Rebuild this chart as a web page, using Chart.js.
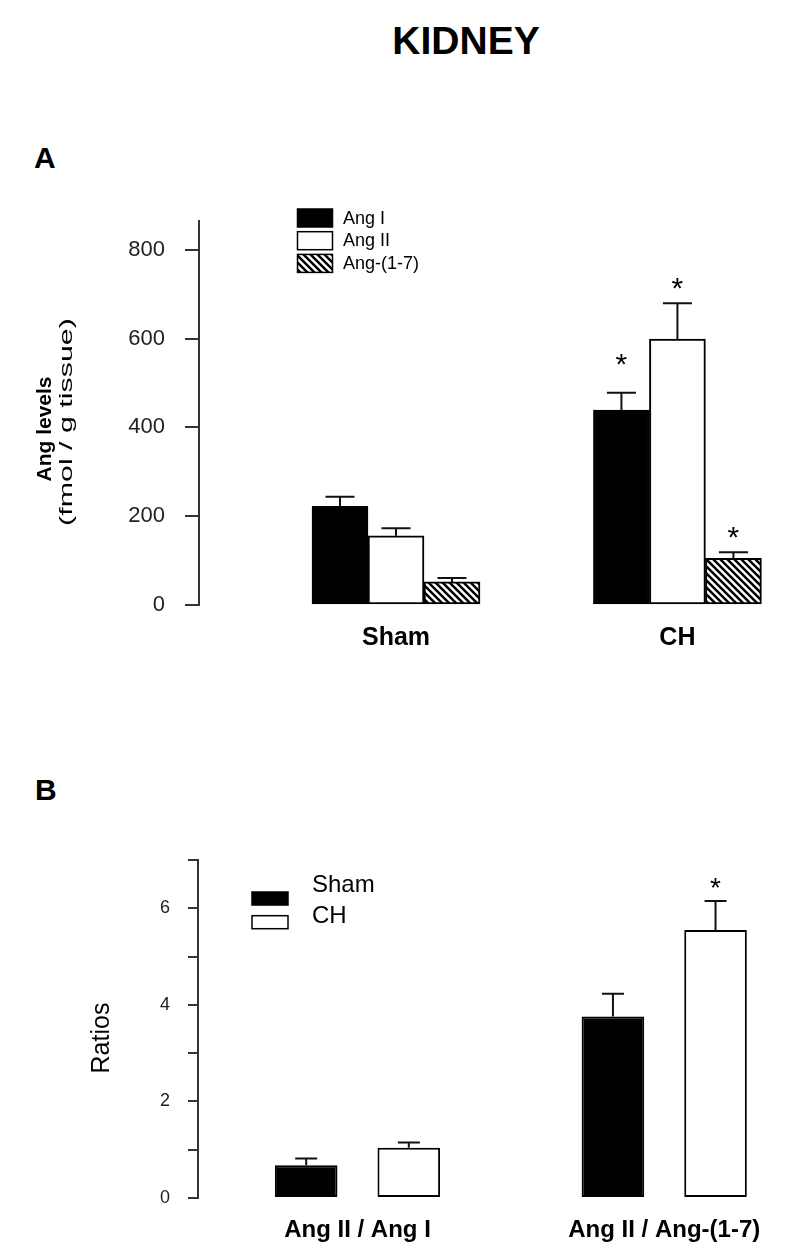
<!DOCTYPE html>
<html>
<head>
<meta charset="utf-8">
<script src="https://cdn.jsdelivr.net/npm/chart.js@4"></script>
<style>
  body { margin: 0; background: #fff; }
  #page { position: relative; width: 800px; height: 1259px; overflow: hidden; font-family: 'Liberation Sans', Arial, sans-serif; }
  .lbl { position: absolute; font-weight: bold; line-height: 1; color: #000; white-space: nowrap; }
  canvas { position: absolute; left: 0; }
</style>
</head>
<body>
<div id="page">
  <div class="lbl" style="left:466px; top:21px; font-size:39px; transform:translateX(-50%);">KIDNEY</div>
  <div class="lbl" style="left:34px; top:143px; font-size:30px;">A</div>
  <div class="lbl" style="left:35px; top:775px; font-size:30px;">B</div>
  <canvas id="chartA" width="800" height="690" style="top:0px"></canvas>
  <canvas id="chartB" width="800" height="569" style="top:690px"></canvas>
</div>
<script>
// --- Panel A: Ang levels (fmol / g tissue) ---
const groupsA = ["Sham", "CH"];
const angI = [222, 439];
const angIErr = [22, 39];
const angII = [156, 599];
const angIIErr = [17, 81];
const ang17 = [52, 105];
const ang17Err = [9, 14];
const starsAngI = [false, true];
const starsAngII = [false, true];
const starsAng17 = [false, true];
const ticksA = [0, 200, 400, 600, 800];

// --- Panel B: ratios ---
const groupsB = ["Ang II / Ang I", "Ang II / Ang-(1-7)"];
const ratioSham = [0.68, 3.76];
const ratioShamErr = [0.14, 0.47];
const ratioCH = [1.04, 5.55];
const ratioCHErr = [0.11, 0.60];
const starsSham = [false, false];
const starsCH = [false, true];
const ticksB = [0, 2, 4, 6];

Chart.defaults.font.family = "'Liberation Sans', Arial, sans-serif";
Chart.defaults.color = "#000";

// hatch fill for Ang-(1-7)
function makeHatch() {
    let c = document.createElement("canvas");
    c.width = 7; c.height = 7;
    let g = c.getContext("2d");
    g.fillStyle = "#fff";
    g.fillRect(0, 0, 7, 7);
    g.strokeStyle = "#000";
    g.lineWidth = 2.5;
    g.beginPath();
    g.moveTo(-1, -1); g.lineTo(8, 8);
    g.moveTo(-1, 6); g.lineTo(1, 8);
    g.moveTo(6, -1); g.lineTo(8, 1);
    g.stroke();
    return g.createPattern(c, "repeat");
}
const hatch = makeHatch();

// error bars (upper only) + asterisks
const errorBars = {
    id: "errorBars",
    afterDatasetsDraw(chart, args, opts) {
        const ctx = chart.ctx;
        const yScale = chart.scales.y;
        chart.data.datasets.forEach((ds, i) => {
            const meta = chart.getDatasetMeta(i);
            meta.data.forEach((bar, j) => {
                const top = yScale.getPixelForValue(ds.data[j] + ds.errors[j]);
                ctx.save();
                ctx.strokeStyle = "#111";
                ctx.lineWidth = 2;
                ctx.beginPath();
                ctx.moveTo(bar.x, bar.y);
                ctx.lineTo(bar.x, top);
                ctx.moveTo(bar.x - opts.cap / 2, top);
                ctx.lineTo(bar.x + opts.cap / 2, top);
                ctx.stroke();
                if (ds.stars[j]) {
                    const gap = (ds.starGap || opts.starGap);
                    ctx.fillStyle = "#000";
                    ctx.font = opts.starSize + "px 'Liberation Sans', Arial";
                    ctx.textAlign = "center";
                    ctx.textBaseline = "alphabetic";
                    ctx.fillText("*", bar.x, top - gap + 0.57 * opts.starSize);
                }
                ctx.restore();
            });
        });
    }
};

// rotated side title lines
const sideTitle = {
    id: "sideTitle",
    afterDraw(chart, args, opts) {
        const ctx = chart.ctx;
        const cy = (chart.chartArea.top + chart.chartArea.bottom) / 2;
        opts.lines.forEach(l => {
            ctx.save();
            ctx.translate(l.x, cy + l.dy);
            ctx.rotate(-Math.PI / 2);
            ctx.scale(l.stretch, 1);
            ctx.font = l.font;
            ctx.fillStyle = "#000";
            ctx.textAlign = "center";
            ctx.textBaseline = "middle";
            ctx.fillText(l.text, 0, 0);
            ctx.restore();
        });
    }
};

// small boxed legend inside the plot
const boxLegend = {
    id: "boxLegend",
    afterDraw(chart, args, o) {
        const ctx = chart.ctx;
        chart.data.datasets.forEach((ds, i) => {
            const y = o.top + i * o.row;
            ctx.save();
            ctx.fillStyle = ds.backgroundColor;
            ctx.fillRect(o.left, y, o.w, o.h);
            ctx.strokeStyle = "#000";
            ctx.lineWidth = 1.5;
            ctx.strokeRect(o.left, y, o.w, o.h);
            ctx.fillStyle = "#000";
            ctx.font = o.font;
            ctx.textBaseline = "middle";
            ctx.fillText(ds.label, o.left + o.w + o.gap, o.textTop + i * o.textRow);
            ctx.restore();
        });
    }
};

function yAxis(max, step, labels, size, tickLen, pad, width) {
    return {
        min: 0,
        max: max,
        afterFit: s => { s.width = width; },
        ticks: {
            stepSize: step,
            includeBounds: false,
            padding: pad,
            color: "#222",
            font: { size: size },
            callback: v => labels.includes(v) ? String(v) : ""
        },
        grid: { drawOnChartArea: false, drawTicks: true, tickLength: tickLen, color: "#333", lineWidth: 2 },
        border: { color: "#333", width: 2 }
    };
}

function xAxis(min, max, names, size) {
    return {
        type: "linear",
        min: min,
        max: max,
        offset: false,
        afterFit: s => { s.height = 60; },
        ticks: {
            stepSize: 1,
            includeBounds: false,
            padding: 18,
            maxRotation: 0,
            font: { size: size, weight: "bold" },
            callback: v => names[v - 1] || ""
        },
        grid: { display: false, drawTicks: false },
        border: { display: false }
    };
}

document.addEventListener("DOMContentLoaded", function () {
    new Chart(document.getElementById("chartA"), {
        type: "bar",
        data: {
            labels: [1, 2],
            datasets: [
                { label: "Ang I", data: angI, errors: angIErr, stars: starsAngI, starGap: 36, backgroundColor: "#000" },
                { label: "Ang II", data: angII, errors: angIIErr, stars: starsAngII, backgroundColor: "#fff" },
                { label: "Ang-(1-7)", data: ang17, errors: ang17Err, stars: starsAng17, backgroundColor: hatch }
            ].map(d => Object.assign(d, { borderColor: "#000", borderWidth: 2, borderSkipped: false, barThickness: 56 }))
        },
        options: {
            responsive: false,
            animation: false,
            events: [],
            layout: { padding: { top: 221, bottom: 25, left: 0, right: 10 } },
            scales: {
                x: xAxis(0.3, 2.4, groupsA, 25),
                y: yAxis(865, 200, ticksA, 22, 14, 20, 199)
            },
            plugins: {
                legend: { display: false },
                tooltip: { enabled: false },
                errorBars: { cap: 29, starSize: 30, starGap: 22 },
                sideTitle: { lines: [
                    { text: "Ang levels", font: "bold 20px 'Liberation Sans', Arial", x: 45, dy: 16, stretch: 1.05 },
                    { text: "(fmol / g tissue)", font: "19px 'Liberation Sans', Arial", x: 67, dy: 9, stretch: 1.6 }
                ] },
                boxLegend: { left: 297.5, top: 209, w: 35, h: 18, row: 22.7, gap: 10.5, textTop: 219, textRow: 22.5, font: "18px 'Liberation Sans', Arial" }
            }
        },
        plugins: [errorBars, sideTitle, boxLegend]
    });

    new Chart(document.getElementById("chartB"), {
        type: "bar",
        data: {
            labels: [1, 2],
            datasets: [
                { label: "Sham", data: ratioSham, errors: ratioShamErr, stars: starsSham, backgroundColor: "#000" },
                { label: "CH", data: ratioCH, errors: ratioCHErr, stars: starsCH, backgroundColor: "#fff" }
            ].map(d => Object.assign(d, { borderColor: "#000", borderWidth: 2, borderSkipped: false, categoryPercentage: 0.669, barPercentage: 0.61 }))
        },
        options: {
            responsive: false,
            animation: false,
            events: [],
            layout: { padding: { top: 170, bottom: 1, left: 0, right: 10 } },
            scales: {
                x: xAxis(0.48, 2.41, groupsB, 24),
                y: yAxis(7, 1, ticksB, 18, 10, 18, 198)
            },
            plugins: {
                legend: { display: false },
                tooltip: { enabled: false },
                errorBars: { cap: 22, starSize: 28, starGap: 20 },
                sideTitle: { lines: [
                    { text: "Ratios", font: "25px 'Liberation Sans', Arial", x: 102, dy: 9, stretch: 1 }
                ] },
                boxLegend: { left: 252, top: 202, w: 36, h: 13, row: 23.7, gap: 24, textTop: 195, textRow: 31.7, font: "24px 'Liberation Sans', Arial" }
            }
        },
        plugins: [errorBars, sideTitle, boxLegend]
    });
});
</script>
</body>
</html>
